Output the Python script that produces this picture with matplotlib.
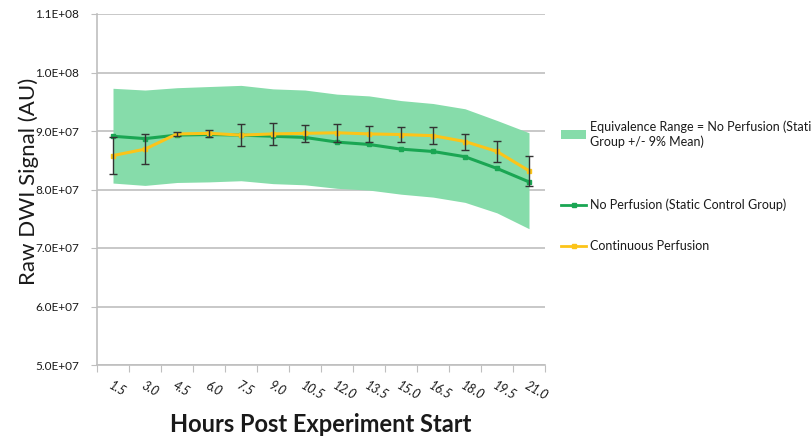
import matplotlib
matplotlib.use("Agg")
import matplotlib.pyplot as plt
from matplotlib.patches import Patch
from matplotlib.lines import Line2D
from matplotlib.font_manager import FontProperties
import matplotlib.transforms as mtransforms

hours = ["1.5", "3.0", "4.5", "6.0", "7.5", "9.0", "10.5", "12.0",
         "13.5", "15.0", "16.5", "18.0", "19.5", "21.0"]
no_perfusion = [8.91e7, 8.87e7, 8.93e7, 8.94e7, 8.93e7, 8.91e7, 8.89e7,
                8.81e7, 8.77e7, 8.69e7, 8.65e7, 8.56e7, 8.36e7, 8.13e7]
continuous = [8.58e7, 8.69e7, 8.95e7, 8.96e7, 8.93e7, 8.95e7, 8.96e7,
              8.97e7, 8.95e7, 8.94e7, 8.92e7, 8.82e7, 8.65e7, 8.32e7]
continuous_err = [3.2e6, 2.6e6, 0.4e6, 0.55e6, 1.9e6, 1.9e6, 1.5e6,
                  1.5e6, 1.4e6, 1.25e6, 1.45e6, 1.37e6, 1.85e6, 2.56e6]
band_upper = [9.73e7, 9.70e7, 9.74e7, 9.76e7, 9.78e7, 9.72e7, 9.70e7,
              9.63e7, 9.60e7, 9.52e7, 9.47e7, 9.38e7, 9.18e7, 8.97e7]
band_lower = [8.11e7, 8.07e7, 8.12e7, 8.13e7, 8.15e7, 8.10e7, 8.08e7,
              8.02e7, 7.99e7, 7.92e7, 7.87e7, 7.78e7, 7.60e7, 7.33e7]
y_ticks = [5e7, 6e7, 7e7, 8e7, 9e7, 1.0e8, 1.1e8]
y_tick_labels = ["5.0E+07", "6.0E+07", "7.0E+07", "8.0E+07", "9.0E+07",
                 "1.0E+08", "1.1E+08"]

band_color = "#86dcaa"
green = "#1aa653"
yellow = "#fcc419"
grid_color = "#bfbfbf"
text_color = "#1a1a1a"
font = ["Lato", "DejaVu Sans"]

fig = plt.figure(figsize=(8.11, 4.37), dpi=100)
ax = fig.add_axes([97 / 811, 1 - 365 / 437, (545 - 97) / 811, (365 - 14) / 437])

x = list(range(1, len(hours) + 1))
ax.fill_between(x, band_lower, band_upper, color=band_color, lw=0, zorder=1)
ax.plot(x, no_perfusion, color=green, lw=2.2, marker="s", ms=3.5, zorder=3)
ax.plot(x, continuous, color=yellow, lw=2.2, marker="s", ms=3.5, zorder=4)
ax.errorbar(x, continuous, yerr=continuous_err, fmt="none", ecolor="#333333",
            elinewidth=1, capsize=3, capthick=1, zorder=5)

ax.set_xlim(0.5, len(hours) + 0.5)
ax.set_ylim(5e7, 1.1e8)
ax.set_yticks(y_ticks)
ax.set_yticklabels(y_tick_labels, fontsize=8.5, family=font, color=text_color)
ax.yaxis.grid(True, color=grid_color, lw=1.2, zorder=0)
ax.set_axisbelow(True)

ax.set_xticks([i + 0.5 for i in range(0, len(hours) + 1)])
ax.set_xticklabels([])
ax.set_xticks(x, minor=True)
ax.set_xticklabels(hours, minor=True, rotation=-30, fontsize=9,
                   family=font, style="italic", ha="left", rotation_mode="anchor",
                   color=text_color)
offset = mtransforms.ScaledTranslation(-3 / 100, 0, fig.dpi_scale_trans)
for lab in ax.xaxis.get_minorticklabels():
    lab.set_transform(lab.get_transform() + offset)
ax.tick_params(axis="x", which="minor", length=0, pad=10)
ax.tick_params(axis="x", which="major", length=5, color=grid_color, direction="out")
ax.tick_params(axis="y", length=4, color=grid_color, direction="out", pad=9)

for s in ["top", "right"]:
    ax.spines[s].set_visible(False)
ax.spines["left"].set_color(grid_color)
ax.spines["bottom"].set_color(grid_color)
ax.spines["left"].set_linewidth(1.2)
ax.spines["bottom"].set_linewidth(1.2)

ax.set_ylabel("Raw DWI Signal (AU)", fontsize=16, family=font, color=text_color)
ax.yaxis.set_label_coords((39 - 97) / 448, (365 - 181) / 351)
ax.set_xlabel("Hours Post Experiment Start", fontsize=17, family=font,
              fontweight="bold", labelpad=8, color=text_color)

h1 = Patch(facecolor=band_color, edgecolor="none")
h2 = Line2D([], [], color=green, lw=2, marker="s", ms=3)
h3 = Line2D([], [], color=yellow, lw=2, marker="s", ms=3)
fp = FontProperties(family=font, size=9)
entries = [
    (h1, "Equivalence Range = No Perfusion (Static\nGroup +/- 9% Mean)", 134),
    (h2, "No Perfusion (Static Control Group)", 205),
    (h3, "Continuous Perfusion", 246),
]
for handle, label, ypix in entries:
    fig.legend([handle], [label], loc="center left",
               bbox_to_anchor=(561 / 811, 1 - ypix / 437),
               frameon=False, prop=fp, handlelength=2.0, handletextpad=0.3,
               borderaxespad=0, borderpad=0, labelcolor=text_color)

fig.savefig("out.png", dpi=100)
